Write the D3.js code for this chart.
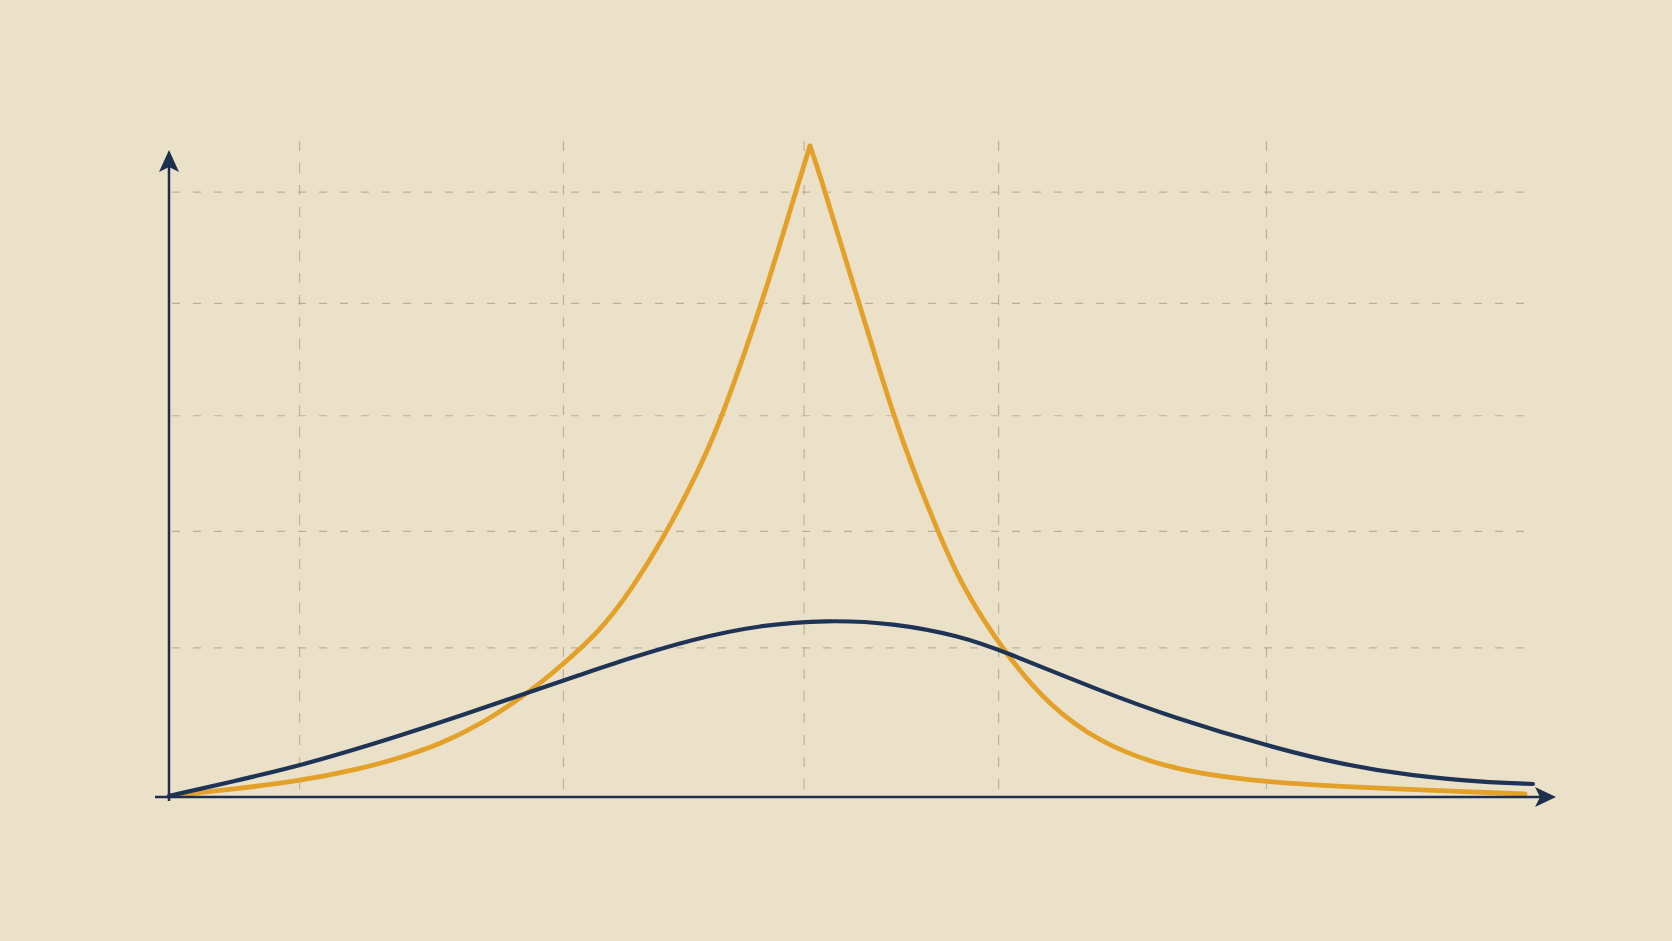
<!DOCTYPE html>
<html>
<head>
<meta charset="utf-8">
<script src="https://cdn.jsdelivr.net/npm/d3@7"></script>
<style>
  html, body { margin: 0; padding: 0; background: #ebe1c9; }
  svg { display: block; }
</style>
</head>
<body>
<svg id="chart" width="1672" height="941"></svg>
<script>
// ---- data (arbitrary units) ----
const gridX = [9.6, 29.0, 46.7, 61.0, 80.7];
const gridY = [22.8, 40.7, 58.5, 75.8, 92.9];

const navyX = [0, 4.49, 9.63, 16.47, 21.4, 26.32, 30.22, 33.68, 38.53, 43.46, 48.38, 53.24, 58.16, 61.32, 68.68, 73.75, 80.74, 86.4, 91.47, 96.54, 100.29];
const navyY = [0, 2.15, 4.62, 8.92, 12.31, 15.85, 18.62, 21.08, 24.15, 26.31, 27.08, 26.62, 24.62, 22.31, 16.0, 12.15, 7.69, 4.77, 3.08, 2.15, 1.85];

const orangeX = [0, 4.49, 9.63, 14.04, 16.99, 19.93, 22.87, 26.32, 28.75, 31.69, 33.9, 36.62, 39.04, 40.74, 43.6, 45.37, 46.4, 47.13, 47.87, 48.97, 50.74, 53.24, 55.0, 56.54, 58.16, 61.32, 64.78, 68.46, 72.13, 75.81, 80.74, 86.84, 94.19, 99.71];
const orangeY = [0, 1.0, 2.31, 4.15, 5.85, 8.0, 10.92, 15.69, 19.85, 25.38, 31.38, 40.62, 50.46, 58.62, 75.85, 88.0, 95.08, 100, 95.54, 87.85, 75.85, 58.62, 48.62, 40.77, 32.77, 22.31, 13.69, 8.31, 5.23, 3.38, 2.15, 1.38, 0.77, 0.31];

// ---- layout ----
const svg = d3.select("#chart");
const x = d3.scaleLinear().domain([0, 100]).range([169, 1529]);
const y = d3.scaleLinear().domain([0, 100]).range([796, 146]);

const axisColor = "#1d2f4c";
const gridColor = "#a99c84";

// grid
const g = svg.append("g");
g.selectAll("line.gy").data(gridY).enter().append("line")
  .attr("x1", x(0) + 3).attr("x2", 1524)
  .attr("y1", d => y(d)).attr("y2", d => y(d))
  .attr("stroke", gridColor).attr("stroke-width", 1.2)
  .attr("stroke-dasharray", "8,13").attr("opacity", 0.7);
g.selectAll("line.gx").data(gridX).enter().append("line")
  .attr("x1", d => x(d)).attr("x2", d => x(d))
  .attr("y1", 141).attr("y2", y(0))
  .attr("stroke", gridColor).attr("stroke-width", 1.2)
  .attr("stroke-dasharray", "10,12").attr("opacity", 0.7);

// curves
const line = d3.line().x(d => x(d[0])).y(d => y(d[1])).curve(d3.curveBasis);
const orange = orangeX.map((v, i) => [v, orangeY[i]]);
const navy = navyX.map((v, i) => [v, navyY[i]]);
const peakIdx = d3.maxIndex(orangeY);
const orangeL = orange.slice(0, peakIdx + 1);
const orangeR = orange.slice(peakIdx);

const orangeG = svg.append("g");
[orangeL, orangeR].forEach(part => {
  orangeG.append("path").datum(part)
    .attr("d", line).attr("fill", "none")
    .attr("stroke", "#e3a12a").attr("stroke-width", 4.8)
    .attr("stroke-linejoin", "round").attr("stroke-linecap", "round");
});
svg.append("path").datum(navy)
  .attr("d", line).attr("fill", "none")
  .attr("stroke", "#1d3456").attr("stroke-width", 4.2)
  .attr("stroke-linejoin", "round").attr("stroke-linecap", "round");

// axes with arrows
svg.append("line")
  .attr("x1", 155).attr("x2", 1540)
  .attr("y1", y(0) + 1).attr("y2", y(0) + 1)
  .attr("stroke", axisColor).attr("stroke-width", 2.5);
svg.append("line")
  .attr("x1", x(0)).attr("x2", x(0))
  .attr("y1", 801).attr("y2", 165)
  .attr("stroke", axisColor).attr("stroke-width", 2.5);

// arrowheads
const ax = 1556, ay = y(0) + 1;
svg.append("path")
  .attr("d", `M${ax},${ay} L${ax - 21},${ay - 10} L${ax - 16},${ay} L${ax - 21},${ay + 10} Z`)
  .attr("fill", axisColor);
const tx = x(0), ty = 150;
svg.append("path")
  .attr("d", `M${tx},${ty} L${tx + 10},${ty + 22} L${tx},${ty + 17} L${tx - 10},${ty + 22} Z`)
  .attr("fill", axisColor);
</script>
</body>
</html>
